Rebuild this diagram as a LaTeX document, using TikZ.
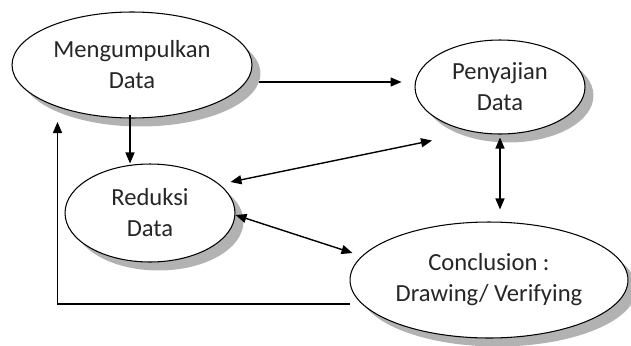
\documentclass[tikz,border=0pt]{standalone}
\usepackage{fontspec}
\setmainfont{Carlito}
\usetikzlibrary{shapes.geometric, shadows, arrows.meta, calc}
\tikzset{
tahap/.style={ellipse, draw, line width=0.6pt, fill=white, align=center, inner sep=0pt, % sets the look of each stage
  font=\fontsize{14}{17.6}\selectfont, text=black!85,
  drop shadow={shadow xshift=0.17cm, shadow yshift=-0.17cm, fill=black!30, opacity=1}}, % grey shadow bottom right
alur/.style={-{Triangle[length=2.2mm, width=1.8mm]}, line width=0.8pt}, % one-way edge
bolak/.style={{Triangle[length=2.2mm, width=1.8mm]}-{Triangle[length=2.2mm, width=1.8mm]}, line width=0.8pt}, % two-way edge
}
\begin{document}
\begin{tikzpicture}[x=0.02cm, y=-0.02cm]
\useasboundingbox (0,0) rectangle (631,345);
\node[tahap, minimum width=4.8cm, minimum height=2.12cm] (kumpul) at (132,65) {Mengumpulkan\\Data};
\node[tahap, minimum width=3.4cm, minimum height=1.88cm] (saji) at (500,87) {Penyajian\\Data};
\node[tahap, minimum width=3.4cm, minimum height=1.96cm] (reduksi) at (150,213) {Reduksi\\Data};
\node[tahap, minimum width=5.56cm, minimum height=2.32cm] (simpul) at (489,280) {Conclusion :\\Drawing/ Verifying};
\draw[alur] ($(kumpul.east)+(6,17)$) -- ($(saji.west)+(-13,-5)$);
\draw[alur] ($(kumpul.south)+(-2,-4)$) -- ($(reduksi.north -| kumpul.south)+(-2,0)$);
\draw[alur] ($(simpul.west)+(0,24)$) -| ($(kumpul.west)+(46,57)$);
\draw[bolak] ($(reduksi.east)+(-5,-31)$) -- ($(saji.south)+(-68,6)$);
\draw[bolak] ($(reduksi.east)+(0,2)$) -- ($(simpul.west)+(3,-27)$);
\draw[bolak] ($(saji.south)+(0,3)$) -- ($(saji.south |- simpul.north)+(0,-12)$);
\end{tikzpicture}
\end{document}
